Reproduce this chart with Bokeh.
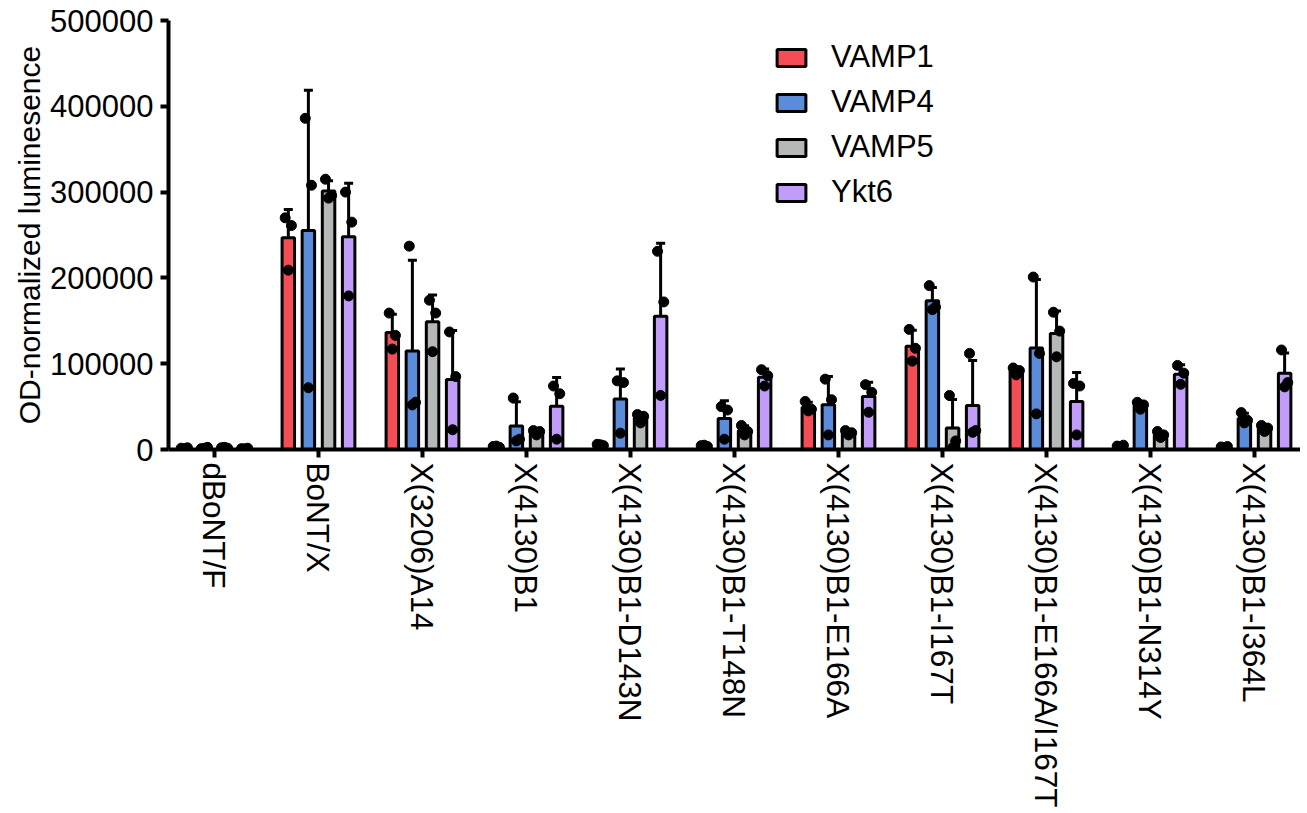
import numpy as np
from bokeh.plotting import figure
from bokeh.models import (ColumnDataSource, Range1d, FixedTicker, BasicTickFormatter,
                          Legend, LegendItem, Whisker, TeeHead)
from bokeh.embed import file_html
from bokeh.resources import INLINE

categories = ["dBoNT/F", "BoNT/X", "X(3206)A14", "X(4130)B1", "X(4130)B1-D143N",
              "X(4130)B1-T148N", "X(4130)B1-E166A", "X(4130)B1-I167T",
              "X(4130)B1-E166A/I167T", "X(4130)B1-N314Y", "X(4130)B1-I364L"]
series = ["VAMP1", "VAMP4", "VAMP5", "Ykt6"]
colors = ["#F44D56", "#5B8CDB", "#B4B8B7", "#C19DF9"]
y_ticks = [0, 100000, 200000, 300000, 400000, 500000]

vamp1_mean = [1500, 246700, 136300, 3300, 5300, 4300, 49300, 120300, 91300, 4000, 3000]
vamp1_sd = [500, 33000, 21200, 800, 800, 800, 5900, 18600, 4000, 1000, 500]
vamp1_pts = [[1500, 2000, 1000], [270000, 261000, 209000], [159000, 133000, 117000],
             [3500, 2500, 4000], [6000, 4500, 5500], [4500, 3500, 5000],
             [56000, 47000, 45000], [140000, 118000, 103000], [95000, 92000, 87000],
             [4000, 5000, 3000], [3000, 3500, 2500]]

vamp4_mean = [1700, 255300, 114700, 27300, 59000, 36000, 52300, 173300, 118200, 51300, 36000]
vamp4_sd = [800, 163500, 106000, 28300, 34700, 20900, 32900, 15400, 79900, 4000, 6200]
vamp4_pts = [[1000, 2500, 1500], [386000, 308000, 72000], [237000, 55000, 52000],
             [60000, 12000, 10000], [80000, 78000, 19000], [50000, 46000, 12000],
             [82000, 58000, 17000], [191000, 166000, 163000], [201000, 112000, 41500],
             [55000, 52000, 47000], [43000, 34000, 31000]]

vamp5_mean = [2000, 301300, 149000, 20000, 36800, 22000, 19500, 25000, 135300, 17300, 24700]
vamp5_sd = [500, 11900, 31200, 2600, 5100, 5600, 2500, 33200, 26100, 3500, 3500]
vamp5_pts = [[2000, 1500, 2500], [315000, 296000, 293000], [174000, 159000, 114000],
             [22000, 21000, 17000], [40700, 38700, 31000], [28000, 21000, 17000],
             [22000, 19500, 17000], [63000, 10000, 2000], [160000, 138000, 108000],
             [21000, 17000, 14000], [28000, 25000, 21000]]

ykt6_mean = [1100, 248000, 81700, 50300, 155300, 84300, 61900, 51300, 56000, 87700, 89000]
ykt6_sd = [400, 62300, 57100, 33500, 85200, 9600, 16600, 52500, 33800, 11100, 23500]
ykt6_pts = [[1000, 1500, 800], [300000, 265000, 179000], [137000, 85000, 23000],
            [74000, 65000, 12000], [231000, 172000, 63000], [93000, 86000, 74000],
            [75600, 66700, 43400], [112000, 22000, 20000], [77000, 74000, 17000],
            [98000, 89000, 76000], [116000, 78000, 73000]]

means = [vamp1_mean, vamp4_mean, vamp5_mean, ykt6_mean]
sds = [vamp1_sd, vamp4_sd, vamp5_sd, ykt6_sd]
pts = [vamp1_pts, vamp4_pts, vamp5_pts, ykt6_pts]

offsets = [-0.29, -0.097, 0.097, 0.29]
jitter = [-0.03, 0.03, 0.0]
bar_w = 0.12
FONT = "Liberation Sans"

W, H = 1300, 810
LEFT, TOP, BOTTOM_PX = 168, 20, 450
p = figure(width=W, height=H, output_backend="svg", toolbar_location=None,
           x_range=Range1d(-0.442, -0.442 + (W - LEFT) / 104.0),
           y_range=Range1d(0, 500000),
           min_border_left=LEFT, min_border_right=0, min_border_top=TOP,
           min_border_bottom=H - BOTTOM_PX)
p.outline_line_color = None
p.xgrid.visible = False
p.ygrid.visible = False
p.background_fill_color = "white"

legend_items = []
for k in range(4):
    xs = [i + offsets[k] for i in range(len(categories))]
    src = ColumnDataSource(dict(x=xs, mean=means[k],
                                top=[m + s for m, s in zip(means[k], sds[k])]))
    r = p.vbar(x="x", top="mean", bottom=0, width=bar_w, source=src,
               fill_color=colors[k], line_color="black", line_width=3)
    legend_items.append(LegendItem(label=series[k], renderers=[r]))
    w = Whisker(source=src, base="x", lower="mean", upper="top", dimension="height",
                line_color="black", line_width=3,
                upper_head=TeeHead(size=9, line_width=3, line_color="black"),
                lower_head=None)
    p.add_layout(w)

for k in range(4):
    px, py = [], []
    for i, trip in enumerate(pts[k]):
        for j, v in enumerate(trip):
            px.append(i + offsets[k] + jitter[j])
            py.append(v)
    p.scatter(px, py, size=10, fill_color="black", line_color="black")

ax = p.xaxis[0]
ax.ticker = FixedTicker(ticks=list(range(len(categories))))
ax.major_label_overrides = {i: c for i, c in enumerate(categories)}
ax.major_label_orientation = "vertical"
ax.major_label_text_font = FONT
ax.major_label_text_font_size = "31.5px"
ax.major_label_text_color = "black"
ax.major_label_standoff = 5
ax.axis_line_width = 4
ax.axis_line_color = "black"
ax.major_tick_line_width = 4
ax.major_tick_out = 8
ax.major_tick_in = 0
ax.minor_tick_line_color = None

ay = p.yaxis[0]
ay.ticker = FixedTicker(ticks=y_ticks)
ay.formatter = BasicTickFormatter(use_scientific=False)
ay.major_label_text_font = FONT
ay.major_label_text_font_size = "31px"
ay.major_label_text_color = "black"
ay.major_label_standoff = 7
ay.axis_line_width = 4
ay.axis_line_color = "black"
ay.major_tick_line_width = 4
ay.major_tick_out = 8
ay.major_tick_in = 0
ay.minor_tick_line_color = None
ay.axis_label = "OD-normalized luminesence"
ay.axis_label_text_font = FONT
ay.axis_label_text_font_size = "30px"
ay.axis_label_text_font_style = "normal"
ay.axis_label_text_color = "black"
ay.axis_label_standoff = 1

legend = Legend(items=legend_items, location=(605, 239), orientation="vertical",
                glyph_width=36, glyph_height=21, label_standoff=22, spacing=9,
                padding=0, margin=0, border_line_color=None,
                background_fill_alpha=0,
                label_text_font=FONT, label_text_font_size="31px",
                label_text_color="black")
p.add_layout(legend)

open("out.html", "w").write(file_html(p, INLINE))
